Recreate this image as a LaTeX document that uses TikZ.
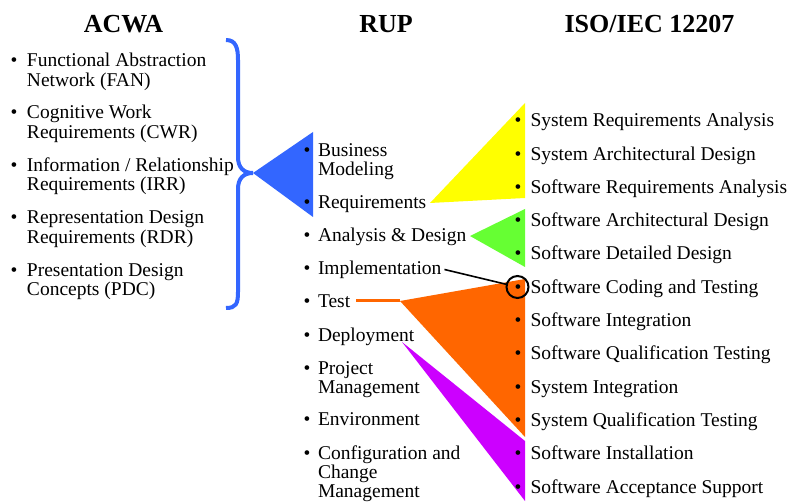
\documentclass[tikz,border=0pt]{standalone}
\usepackage{fontspec}
\setmainfont{Liberation Serif}
\definecolor{braceblue}{HTML}{3366FF}
\definecolor{rupyellow}{HTML}{FFFF00}
\definecolor{rupgreen}{HTML}{66FF33}
\definecolor{ruporange}{HTML}{FF6600}
\definecolor{ruppurple}{HTML}{CC00FF}
\newcommand{\twolines}[2]{\begin{tabular}[t]{@{}l@{}}#1\\#2\end{tabular}}
\newcommand{\threelines}[3]{\begin{tabular}[t]{@{}l@{}}#1\\#2\\#3\end{tabular}}
\begin{document}
\begin{tikzpicture}[x=1pt,y=-1pt,
  every node/.style={inner sep=0pt,outer sep=0pt},
  heading/.style={anchor=base,font=\fontsize{26}{30}\selectfont\bfseries},
  item/.style={anchor=base west,font=\fontsize{19.5}{18.8}\selectfont},
  dot/.style={anchor=base,font=\fontsize{19.5}{18.8}\selectfont}]
\useasboundingbox (0,0) rectangle (790,502);

% coloured wedges linking RUP disciplines to ISO/IEC 12207 processes
\fill[braceblue] (253,173) -- (313,132) -- (313,217) -- cycle;
\fill[rupyellow] (430,203) -- (525,103) -- (525,198) -- cycle;
\fill[rupgreen]  (470,236) -- (525,209) -- (525,267) -- cycle;
\fill[ruporange] (400,301) -- (525,279) -- (525,437) -- cycle;
\fill[ruppurple] (402,342) -- (525,441) -- (525,501) -- cycle;

% ACWA brace
\draw[braceblue,line width=4pt]
  (226,40) .. controls (236,40) and (238,48) .. (238,60) -- (238,157)
  .. controls (238,168) and (244,173) .. (253,173)
  .. controls (244,173) and (238,178) .. (238,189) -- (238,292)
  .. controls (238,304) and (236,308) .. (226,308);

% headings
\node[heading] (hAcwa) at (123.5,33) {ACWA};
\node[heading] (hRup)  at (386,33)   {RUP};
\node[heading] (hIso)  at (649.5,33) {ISO/IEC 12207};

% ACWA items
\foreach \y/\n/\a/\b in {67/fan/{Functional Abstraction}/{Network (FAN)},
                         119/cwr/{Cognitive Work}/{Requirements (CWR)},
                         171.5/irr/{Information {/} Relationship}/{Requirements (IRR)},
                         224/rdr/{Representation Design}/{Requirements (RDR)},
                         276.5/pdc/{Presentation Design}/{Concepts (PDC)}}{
  \node[dot] (d\n) at (14,\y) {\textbullet};
  \node[item] (\n) at (27,\y) {\twolines{\a}{\b}};
}

% RUP disciplines
\node[dot] (dbm) at (307,156.5) {\textbullet};
\node[item] (bm) at (318,156.5) {\twolines{Business}{Modeling}};
\node[dot] (drq) at (307,208.5) {\textbullet};
\node[item] (rq) at (318,208.5) {Requirements};
\node[dot] (dad) at (307,241.5) {\textbullet};
\node[item] (ad) at (318,241.5) {Analysis \& Design};
\node[dot] (dim) at (307,274.5) {\textbullet};
\node[item] (im) at (318,274.5) {Implementation};
\node[dot] (dts) at (307,308) {\textbullet};
\node[item] (ts) at (318,308) {Test};
\node[dot] (ddp) at (307,341.5) {\textbullet};
\node[item] (dp) at (318,341.5) {Deployment};
\node[dot] (dpm) at (307,374.5) {\textbullet};
\node[item] (pm) at (318,374.5) {\twolines{Project}{Management}};
\node[dot] (den) at (307,426) {\textbullet};
\node[item] (en) at (318,426) {Environment};
\node[dot] (dcm) at (307,459.5) {\textbullet};
\node[item] (cm) at (318,459.5) {\threelines{Configuration and}{Change}{Management}};

% ISO/IEC 12207 processes
\foreach \i/\t in {0/System Requirements Analysis,
                   1/System Architectural Design,
                   2/Software Requirements Analysis,
                   3/Software Architectural Design,
                   4/Software Detailed Design,
                   5/Software Coding and Testing,
                   6/Software Integration,
                   7/Software Qualification Testing,
                   8/System Integration,
                   9/System Qualification Testing,
                   10/Software Installation,
                   11/Software Acceptance Support}{
  \node[dot] (diso\i) at (518,126.8+33.3*\i) {\textbullet};
  \node[item] (iso\i) at (530.5,126.8+33.3*\i) {\t};
}

% Implementation points at the coding process
\node[draw,circle,line width=2pt,minimum size=22pt] (ring) at (517.5,287) {};
\draw[line width=1.6pt] ([xshift=3pt,yshift=5pt]im.base east) -- (ring);

% Test feeds the orange wedge
\coordinate (testjoin) at (400,301);
\draw[ruporange,line width=3pt] ([xshift=6pt]ts.east |- testjoin) -- (testjoin);
\end{tikzpicture}
\end{document}
